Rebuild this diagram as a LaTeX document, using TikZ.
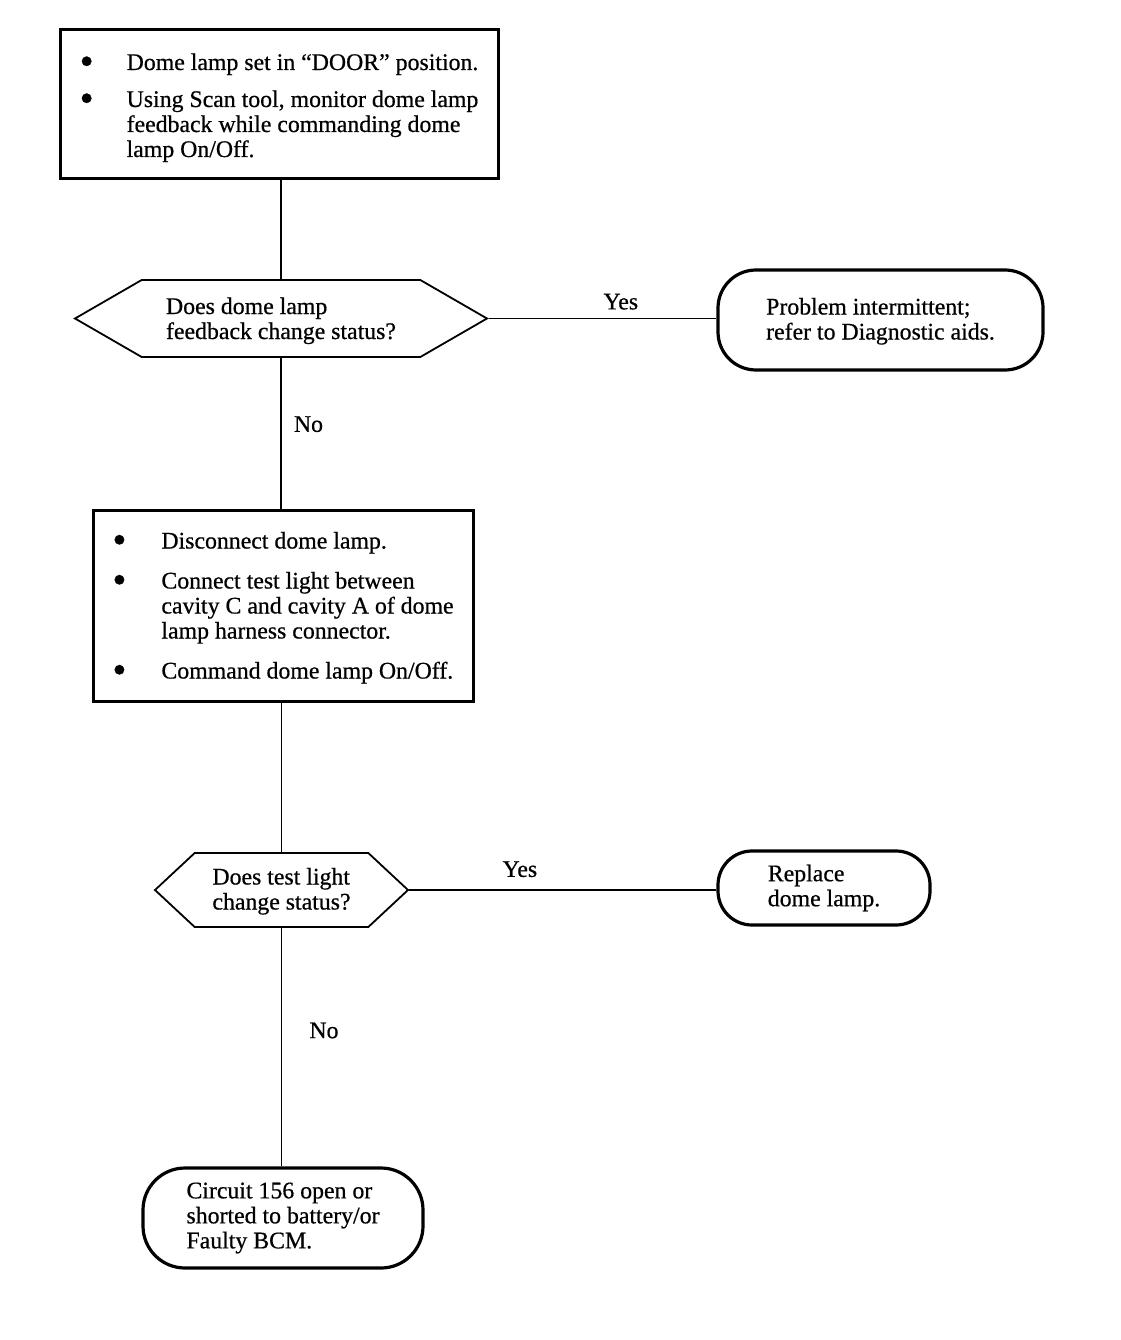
\documentclass[tikz,border=0pt]{standalone}
\usepackage{fontspec}
\setmainfont{Liberation Serif}[FakeBold=0.6]
\usetikzlibrary{shapes.symbols,positioning}

\newcommand{\blob}{\raisebox{-4.5pt}{\fontsize{40}{25}\selectfont\textbullet}}
\newcommand{\sink}[2]{\raisebox{-#1}[\height][\depth]{#2}}

\tikzset{
  stepbox/.style={draw, rectangle, line width=3pt, inner sep=0pt},
  askbox/.style={draw, shape=signal, signal to=east and west, line width=1.8pt,
    inner sep=0pt, align=left},
  endbox/.style={draw, rectangle, rounded corners=38pt, line width=3.2pt,
    inner sep=0pt, align=left},
  wire/.style={line width=1.8pt},
  answer/.style={inner sep=0pt}
}

\begin{document}
\begin{tikzpicture}[x=1pt,y=-1pt,font=\fontsize{23.8}{25}\selectfont]
  \useasboundingbox (0,0) rectangle (1120,1340);
  %% boxes
  \node (check1) at (279,104.5) [stepbox, minimum width=438pt, minimum height=149pt]
  {\sink{4pt}{\begin{tabular}{@{}p{47pt}@{}l@{}}
    \blob & Dome lamp set in “DOOR” position.\\[12pt]
    \blob & Using Scan tool, monitor dome lamp\\
    & feedback while commanding dome\\
    & lamp On/Off.
  \end{tabular}}};
  \node (ask1) at (281,318.5) [askbox, signal pointer angle=60,
    minimum width=412pt, minimum height=77pt]
  {\sink{3pt}{\begin{tabular}{@{}l@{}}Does dome lamp\\feedback change status?\end{tabular}}};
  \node (fix1) at (880.5,320) [endbox, minimum width=325pt, minimum height=100pt]
  {\sink{2pt}{\begin{tabular}{@{}l@{}}Problem intermittent;\\refer to Diagnostic aids.\end{tabular}}};
  \node (check2) at (283,605.5) [stepbox, minimum width=380pt, minimum height=191pt]
  {\sink{3pt}{\begin{tabular}{@{}p{49pt}@{}l@{}}
    \blob & Disconnect dome lamp.\\[15pt]
    \blob & Connect test light between\\
    & cavity C and cavity A of dome\\
    & lamp harness connector.\\[15pt]
    \blob & Command dome lamp On/Off.
  \end{tabular}}};
  \node (ask2) at (281.5,890) [askbox, signal pointer angle=86,
    minimum width=253pt, minimum height=74pt]
  {\sink{2pt}{\begin{tabular}{@{}l@{}}Does test light\\change status?\end{tabular}}};
  \node (fix2) at (824,888) [endbox, rounded corners=34pt,
    minimum width=212pt, minimum height=74pt]
  {Replace\\dome lamp.};
  \node (fix3) at (283,1218) [endbox, rounded corners=42pt,
    minimum width=280pt, minimum height=100pt]
  {Circuit 156 open or\\shorted to battery/or\\Faulty BCM.};
  %% lines
  \draw[wire] (ask1.north |- check1.south) -- (ask1.north);
  \draw[wire] (ask1.east) -- node[answer, above=8pt, pos=.58] {Yes} (ask1.east -| fix1.west);
  \draw[wire] (ask1.south) -- node[answer, right=12pt, pos=.44] {No} (ask1.south |- check2.north);
  \draw[wire] (ask2.north |- check2.south) -- (ask2.north);
  \draw[wire] (ask2.east) -- node[answer, above=12pt, pos=.36] {Yes} (ask2.east -| fix2.west);
  \draw[wire] (ask2.south) -- node[answer, right=27pt, pos=.43] {No} (ask2.south |- fix3.north);
\end{tikzpicture}
\end{document}
